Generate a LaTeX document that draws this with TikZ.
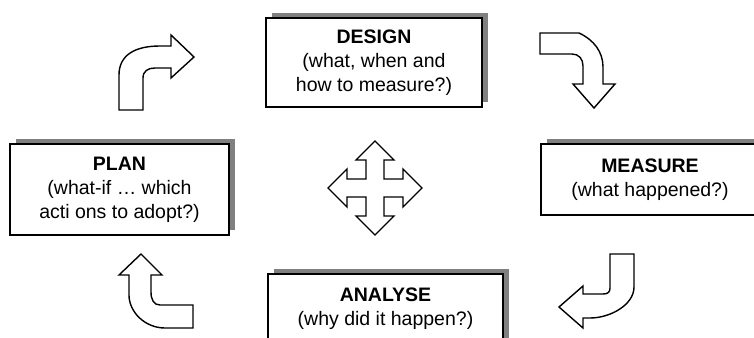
\documentclass[tikz,border=0pt]{standalone}
\usepackage{fontspec}
\setmainfont{Liberation Sans}
\usetikzlibrary{shadows}
\definecolor{shadowgrey}{RGB}{128,128,128}
\begin{document}
\begin{tikzpicture}[x=1pt,y=-1pt,
    stage/.style={draw, line width=2pt, fill=white, align=center, inner sep=0pt,
      font=\fontsize{19.5}{24}\selectfont,
      drop shadow={shadow xshift=6pt, shadow yshift=5pt, fill=shadowgrey, opacity=1}},
    bentarrow/.style={draw, line width=1.4pt, fill=white, line join=miter}]
  \clip (0,0) rectangle (754,337);
  \fill[white] (0,0) rectangle (754,337);
  % the four stages
  \node[stage, minimum width=216pt, minimum height=89pt] (design) at (374,62.5)
    {\textbf{DESIGN}\\(what, when and\\how to measure?)};
  \node[stage, minimum width=219pt, minimum height=91pt] (plan) at (119.5,189.5)
    {\textbf{PLAN}\\(what-if … which\\acti ons to adopt?)};
  \node[stage, minimum width=218pt, minimum height=71pt] (measure) at (650,179.5)
    {\textbf{MEASURE}\\(what happened?)};
  \node[stage, minimum width=235pt, minimum height=69pt] (analyse) at (385.5,308.5)
    {\textbf{ANALYSE}\\(why did it happen?)};
  % bent arrows round the cycle
  \draw[bentarrow] (119,110) -- (119,75) .. controls (119,55) and (135,46) .. (160,46)
    -- (171,46) -- (171,35) -- (194,57) -- (171,78) -- (171,68) -- (155,68)
    .. controls (148,68) and (143,71) .. (143,78) -- (143,110) -- cycle;
  \draw[bentarrow] (540,33) -- (579,33) .. controls (594,40) and (603,52) .. (603,67)
    -- (603,84) -- (615,84) -- (594,108) -- (573,84) -- (583,84) -- (583,66)
    .. controls (583,59) and (579,54) .. (572,54) -- (540,54) -- cycle;
  \draw[bentarrow] (610,254) -- (634,254) -- (634,287) .. controls (634,305) and (610,318) .. (590,318)
    -- (583,318) -- (583,328) -- (559,307) -- (583,286) -- (583,294) -- (603,294)
    .. controls (608,294) and (610,292) .. (610,288) -- cycle;
  \draw[bentarrow] (141,254) -- (162,275) -- (151,275) -- (151,292)
    .. controls (151,300) and (154,305) .. (160,305) -- (193,305) -- (193,328) -- (165,328)
    .. controls (145,328) and (129,312) .. (129,295) -- (129,275) -- (119,275) -- cycle;
  % four-way arrow in the middle
  \begin{scope}[shift={(375,188)}]
    \draw[bentarrow] (9,-9) -- (9,-28) -- (19,-28) -- (0,-47) -- (-19,-28) -- (-9,-28)
      -- (-9,-9) -- (-28,-9) -- (-28,-19) -- (-47,0) -- (-28,19) -- (-28,9)
      -- (-9,9) -- (-9,28) -- (-19,28) -- (0,47) -- (19,28) -- (9,28)
      -- (9,9) -- (28,9) -- (28,19) -- (47,0) -- (28,-19) -- (28,-9) -- cycle;
  \end{scope}
\end{tikzpicture}
\end{document}
